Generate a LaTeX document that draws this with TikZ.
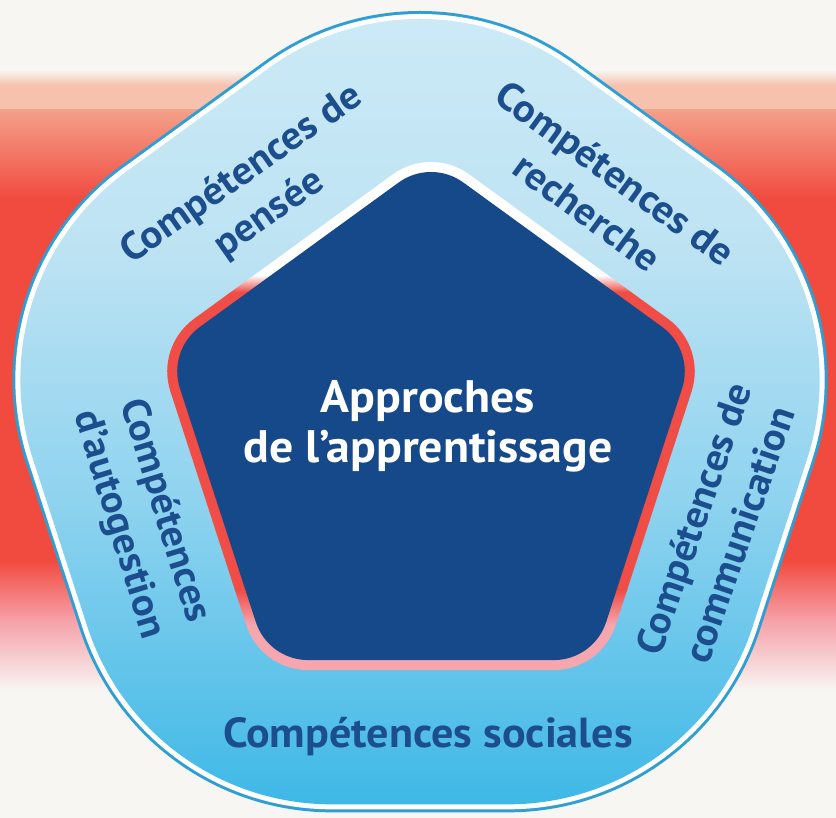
\documentclass[tikz,border=0pt]{standalone}
\usepackage{fontspec}
\setmainfont{PT Sans}[FakeStretch=1.05]
\usetikzlibrary{calc}
\definecolor{bgw}{HTML}{F7F6F3}
\definecolor{salm}{HTML}{F6C2AE}
\definecolor{salm2}{HTML}{F4A08A}
\definecolor{bandred}{HTML}{F14A3E}
\definecolor{bandpink}{HTML}{F6A0A8}
\definecolor{edgeblue}{HTML}{2E9FD5}
\definecolor{fillA}{HTML}{CDEAF6}
\definecolor{fillB}{HTML}{BDE3F3}
\definecolor{fillC}{HTML}{8FD3EF}
\definecolor{fillD}{HTML}{3BB7E6}
\definecolor{innerdark}{HTML}{15498A}
\definecolor{brdred}{HTML}{EF4D46}
\definecolor{brdpink}{HTML}{F6A6AF}
\definecolor{txtblue}{HTML}{1C4E8E}
\tikzset{
  rpent/.style n args={4}{insert path={
    ($(#1,#2)+(90:#3)+(54:#4)$) arc[start angle=54,end angle=126,radius=#4]
    -- ++(216:{1.17557*#3}) arc[start angle=126,end angle=198,radius=#4]
    -- ++(288:{1.17557*#3}) arc[start angle=198,end angle=270,radius=#4]
    -- ++(0:{1.17557*#3}) arc[start angle=270,end angle=342,radius=#4]
    -- ++(72:{1.17557*#3}) arc[start angle=342,end angle=414,radius=#4]
    -- cycle}},
  lab/.style={text=txtblue, font=\fontsize{39}{48}\selectfont\bfseries,
    align=center, inner sep=0pt},
  widelab/.style={text=txtblue, font=\fontsize{42}{48}\selectfont\bfseries,
    inner sep=0pt},
  centrelab/.style={text=white, font=\fontsize{45.5}{50}\selectfont\bfseries,
    align=center, inner sep=0pt}
}
\begin{document}
\begin{tikzpicture}[x=1pt,y=1pt]
\useasboundingbox (0,0) rectangle (836,818);
% background
\fill[bgw] (0,0) rectangle (836,818);
\shade[top color=bgw, bottom color=salm] (0,733) rectangle (836,748);
\fill[salm] (0,708) rectangle (836,733);
\shade[top color=salm2, bottom color=bandred] (0,618) rectangle (836,708);
\fill[bandred] (0,258) rectangle (836,618);
\shade[top color=bandred, bottom color=bandpink] (0,198) rectangle (836,258);
\shade[top color=bandpink, bottom color=bgw] (0,128) rectangle (836,198);
% outer rounded pentagon
\fill[edgeblue] [rpent={420}{392}{150}{265}];
\fill[white] [rpent={420}{392}{150}{262}];
\begin{scope}
  \clip [rpent={420}{392}{150}{257}];
  \shade[top color=fillA, bottom color=fillB] (0,568) rectangle (836,818);
  \shade[top color=fillB, bottom color=fillC] (0,318) rectangle (836,568);
  \shade[top color=fillC, bottom color=fillD] (0,0) rectangle (836,318);
\end{scope}
% inner border
\begin{scope}
  \clip [rpent={431}{382}{209}{65}];
  \fill[white] (0,543) rectangle (836,818);
  \shade[top color=white, bottom color=brdred] (0,526) rectangle (836,543);
  \fill[brdred] (0,228) rectangle (836,526);
  \shade[top color=brdred, bottom color=brdpink] (0,193) rectangle (836,228);
  \fill[brdpink] (0,0) rectangle (836,193);
\end{scope}
\fill[innerdark] [rpent={431}{382}{209}{55}];
% labels
\node[centrelab] (centre) at (428,390) {\strut Approches\\\strut de l’apprentissage};
\node[lab, rotate=35] (pensee) at (256,623) {\strut Compétences de\\\strut pensée};
\node[lab, rotate=-36] (recherche) at (599,622) {\strut Compétences de\\\strut recherche};
\node[lab, rotate=-73] (autogestion) at (141,300) {\strut Compétences\\\strut d'autogestion};
\node[lab, rotate=71] (communication) at (720,290) {\strut Compétences de\\\strut communication};
\node[widelab, anchor=base] (sociales) at (428,70) {Compétences sociales};
\end{tikzpicture}
\end{document}
